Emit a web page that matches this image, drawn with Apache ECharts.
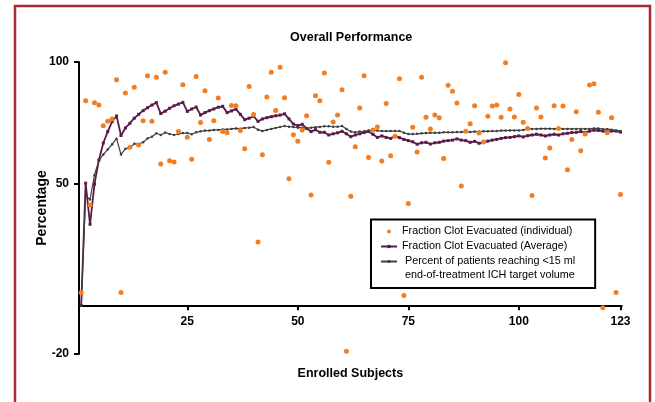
<!DOCTYPE html>
<html><head><meta charset="utf-8">
<script src="https://cdn.jsdelivr.net/npm/echarts@6/dist/echarts.min.js"></script>
<style>html,body{margin:0;padding:0;background:#fff}#c{width:655px;height:402px}</style>
</head><body><div id="c"></div>
<script>
const subjects = Array.from({length: 123}, (_, i) => i + 1);

const individual = [
  5.3, 84.1, 41.2, 83.3, 82.3, 73.8, 75.7, 76.6, 92.7, 5.3,
  87.3, 65, 89.6, 65.9, 75.9, 94.4, 75.6, 93.7, 58.1, 95.8,
  59.4, 58.9, 71.4, 90.7, 69.1, 60, 94, 75.1, 88.2, 68.2,
  75.9, 85.2, 71.4, 70.9, 82.1, 82, 71.8, 64.4, 89.9, 78.4,
  26, 61.9, 85.6, 95.8, 80.1, 97.8, 85.3, 52, 70.1, 67.4,
  72.1, 77.9, 45.3, 86.1, 84.1, 95.5, 58.8, 75.3, 78.2, 88.6,
  -18.9, 44.8, 65.2, 81.1, 94.4, 60.8, 72.1, 73.3, 59.3, 82.9,
  61.5, 69.5, 93.1, 4, 41.9, 73.2, 63, 93.7, 77.3, 72.5,
  78.2, 77.1, 60.3, 90.4, 88, 83.1, 49, 71.5, 74.6, 82,
  70.8, 67.1, 77.7, 81.9, 82.3, 77.3, 99.7, 80.7, 77.4, 86.6,
  75.2, 72.7, 45.1, 81.1, 77.4, 60.5, 64.7, 82, 72.7, 81.9,
  55.7, 68.1, 79.6, 63.5, 70.4, 90.5, 91.1, 79.3, -1, 70.9,
  77.1, 5.3, 45.5
];

const average = [
  0, 50.2, 33.3, 49.8, 59.7, 66.7, 71.4, 75.5, 77.8, 69.8,
  72.9, 74.8, 76.9, 78.5, 80, 81.2, 82.3, 83.3, 78.8, 79.8,
  81, 82, 82.7, 83.4, 79.7, 80.7, 81.5, 78.2, 79.2, 80,
  80.7, 81.4, 81.8, 79.2, 79.9, 80.6, 78.5, 76.3, 76.9, 77.7,
  75.6, 76.6, 77.1, 77.5, 77.9, 78.2, 78.7, 76.6, 74.5, 73.9,
  74.4, 72.7, 71.4, 72.2, 71.1, 71.1, 70, 70.5, 70.9, 71.5,
  70.5, 69.3, 70, 70.5, 71, 71.4, 70.3, 69, 69.6, 69,
  68.6, 69.5, 68.9, 68.2, 67.7, 67.2, 66.2, 66.8, 67, 66.3,
  66.8, 67, 67.5, 67.7, 67.9, 68.4, 67.9, 67.7, 67, 67.4,
  66.6, 67, 67.5, 67.9, 68.2, 68.6, 68.9, 69, 69.3, 69.6,
  69.2, 69.7, 70, 70.3, 70, 69.6, 70, 70.3, 70, 70.5,
  70.7, 71, 71.1, 71.4, 71, 71.6, 72, 71.9, 71.6, 71.4,
  71.6, 71.6, 71.2
];

const percentTarget = [
  0, 45, 43.5, 53.6, 59.5, 62, 64, 66.2, 68.5, 62,
  64.3, 64.7, 66.4, 66.3, 67, 68.6, 69.3, 70.7, 70, 71,
  70.4, 70, 70.4, 70.8, 70.8, 70.3, 71.1, 71.5, 71.8, 71.8,
  72.1, 72.1, 72.3, 72.3, 72.5, 72.7, 72.6, 72.9, 73, 73.3,
  72.2, 71.6, 72.1, 72.5, 72.9, 73.3, 73.7, 73.4, 73.3, 73,
  73, 72.7, 73, 73.2, 73.3, 73.6, 73.6, 73.4, 73.4, 73.7,
  72.5, 71.4, 71.1, 71.4, 71.5, 71.9, 71.9, 71.8, 71.6, 71.6,
  71.6, 71.6, 71.6, 70.9, 70.4, 70.4, 70.5, 70.7, 70.8, 70.9,
  70.9, 70.9, 71.1, 71.1, 71.1, 71.2, 71.2, 71.4, 71.2, 71.4,
  71.4, 71.5, 71.5, 71.6, 71.6, 71.8, 71.8, 71.9, 71.9, 71.9,
  72.1, 72.5, 72.5, 72.5, 72.6, 72.6, 72.6, 72.5, 72.7, 72.5,
  72.5, 72.5, 72.5, 72.5, 72.5, 72.5, 72.7, 72.7, 72.4, 72.4,
  72.2, 71.9, 71.6
];

const xTicks = [25, 50, 75, 100, 123];
const yTicks = [-20, 50, 100];

const N1 = 'Fraction Clot Evacuated (individual)';
const N2 = 'Fraction Clot Evacuated (Average)';
const N3 = 'Percent of patients reaching <15 ml\nend-of-treatment ICH target volume';

const F = 'Liberation Sans, Arial, Helvetica, sans-serif';
const pairs = arr => subjects.map((s, i) => [s, arr[i]]);

const Y_MIN = -20, Y_MAX = 100, GRID_TOP = 62, GRID_BOTTOM = 48, H = 402;
const plotH = H - GRID_TOP - GRID_BOTTOM;
const zeroOffset = -(plotH * (0 - Y_MIN) / (Y_MAX - Y_MIN));

const chart = echarts.init(document.getElementById('c'), null, {renderer: 'canvas'});
chart.setOption({
  animation: false,
  backgroundColor: '#fff',
  graphic: [
    {
      type: 'rect', silent: true, z: -10,
      shape: {x: 15, y: 6, width: 635, height: 430},
      style: {fill: 'none', stroke: '#ab2832', lineWidth: 2.5}
    },
    {
      type: 'text', silent: true, z: 100, x: 405, y: 275.5,
      style: {
        text: N3.split('\n')[1], fill: '#000',
        fontFamily: F, fontSize: 10.8, verticalAlign: 'middle', align: 'left'
      }
    }
  ],
  title: {
    text: 'Overall Performance', left: 290, top: 31, padding: 0,
    textStyle: {fontFamily: F, fontSize: 12.5, fontWeight: 'bold', color: '#000'}
  },
  grid: {left: 79, right: 33.2, top: GRID_TOP, bottom: GRID_BOTTOM, containLabel: false, outerBoundsMode: 'none'},
  xAxis: {
    type: 'value', min: 0.5, max: 123.3, position: 'bottom', offset: zeroOffset,
    name: 'Enrolled Subjects', nameLocation: 'middle', nameGap: 62, nameMoveOverlap: false,
    nameTextStyle: {fontFamily: F, fontSize: 12.5, fontWeight: 'bold', color: '#000'},
    axisLine: {onZero: false, lineStyle: {color: '#000', width: 2}},
    axisTick: {show: true, length: 5, customValues: xTicks, lineStyle: {color: '#000', width: 2}},
    axisLabel: {customValues: xTicks, margin: 10, fontFamily: F, fontSize: 12, fontWeight: 'bold', color: '#000'},
    splitLine: {show: false}
  },
  yAxis: {
    type: 'value', min: Y_MIN, max: Y_MAX,
    name: 'Percentage', nameLocation: 'middle', nameGap: 30, nameMoveOverlap: false,
    nameTextStyle: {fontFamily: F, fontSize: 14, fontWeight: 'bold', color: '#000'},
    axisLine: {show: true, onZero: false, lineStyle: {color: '#000', width: 2}},
    axisTick: {show: true, length: 5, customValues: yTicks, lineStyle: {color: '#000', width: 2}},
    axisLabel: {customValues: yTicks, margin: 10, fontFamily: F, fontSize: 12, fontWeight: 'bold', color: '#000'},
    splitLine: {show: false}
  },
  legend: {
    orient: 'vertical', left: 371, top: 219.5,
    padding: [5, 20, 19.5, 9],
    borderColor: '#000', borderWidth: 2,
    itemWidth: 16, itemHeight: 4, itemGap: 1,
    selectedMode: false,
    formatter: name => name.split('\n')[0],
    textStyle: {fontFamily: F, fontSize: 10.8, color: '#000', lineHeight: 14},
    data: [
      {name: N1},
      {name: N2},
      {name: N3, textStyle: {padding: [0, 0, 0, 3]}}
    ]
  },
  series: [
    {
      type: 'line', name: N2, data: pairs(average),
      symbol: 'rect', symbolSize: 3, showSymbol: true,
      lineStyle: {color: '#5c1a48', width: 1.8}, itemStyle: {color: '#5c1a48'}, z: 3
    },
    {
      type: 'line', name: N3, data: pairs(percentTarget),
      symbol: 'circle', symbolSize: 2.5, showSymbol: true,
      lineStyle: {color: '#3f3f3f', width: 1.2}, itemStyle: {color: '#3f3f3f'}, z: 4
    },
    {
      type: 'scatter', name: N1, data: pairs(individual),
      symbol: 'circle', symbolSize: 5,
      itemStyle: {color: '#f47d20', opacity: 1}, z: 5
    }
  ]
});
</script>
</body></html>
